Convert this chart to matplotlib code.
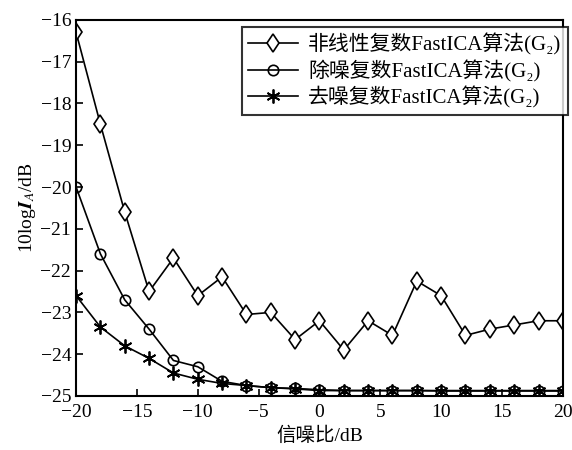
import numpy as np
import matplotlib
matplotlib.use("Agg")
import matplotlib.pyplot as plt

plt.rcParams['font.family'] = ['Liberation Serif', 'Noto Sans CJK SC']
plt.rcParams['mathtext.fontset'] = 'stix'
plt.rcParams['axes.unicode_minus'] = True

# SNR values (dB)
snr = np.arange(-20, 21, 2)

# non-linear complex FastICA
nonlinear = [-16.3, -18.5, -20.6, -22.5, -21.7, -22.6, -22.15, -23.05, -23.0, -23.65, -23.2,
             -23.9, -23.2, -23.55, -22.25, -22.6, -23.55, -23.4, -23.3, -23.2, -23.2]
# de-noising complex FastICA (circles)
denoise1 = [-20.0, -21.6, -22.7, -23.4, -24.15, -24.3, -24.65, -24.75, -24.8, -24.82, -24.85,
            -24.87, -24.87, -24.87, -24.87, -24.87, -24.87, -24.87, -24.87, -24.87, -24.87]
# de-noising complex FastICA (stars)
denoise2 = [-22.6, -23.35, -23.8, -24.1, -24.45, -24.6, -24.7, -24.75, -24.8, -24.83, -24.87,
            -24.87, -24.87, -24.87, -24.87, -24.88, -24.88, -24.88, -24.88, -24.88, -24.88]

labels = ['非线性复数FastICA算法(G\u2082)', '除噪复数FastICA算法(G\u2082)', '去噪复数FastICA算法(G\u2082)']

fig = plt.figure(figsize=(5.72, 4.5), dpi=100)
ax = fig.add_axes([0.133, 0.12, 0.851, 0.836])

ax.plot(snr, nonlinear, color='k', lw=1.2, marker='d', ms=9.5, mfc='white', mec='k', mew=1.2, label=labels[0])
ax.plot(snr, denoise1, color='k', lw=1.2, marker='o', ms=7.5, mfc='none', mec='k', mew=1.2, label=labels[1])
ax.plot(snr, denoise2, color='k', lw=1.2, marker=(6, 2, 0), ms=10, mec='k', mew=1.3, label=labels[2])

ax.set_xlim(-20, 20)
ax.set_ylim(-25, -16)
ax.set_xticks(np.arange(-20, 21, 5))
ax.set_yticks(np.arange(-25, -15, 1))
ax.tick_params(direction='in', length=5, width=1.2, labelsize=14, top=False, right=False)
ax.tick_params(axis='x', pad=6)
for s in ax.spines.values():
    s.set_linewidth(1.5)

ax.set_xlabel('信噪比/dB', fontsize=14, labelpad=4)
ax.set_ylabel(r'10log$\mathbfit{I}_{\mathit{A}}$/dB', fontsize=14, labelpad=2)

leg = ax.legend(loc='upper right', bbox_to_anchor=(1.01, 0.98), fontsize=15, frameon=True,
                fancybox=False, edgecolor='k', handlelength=2.4, borderpad=0.3,
                labelspacing=0.2, handletextpad=0.5, borderaxespad=0.0)
leg.get_frame().set_linewidth(1.5)

fig.savefig('out.png', dpi=100)
